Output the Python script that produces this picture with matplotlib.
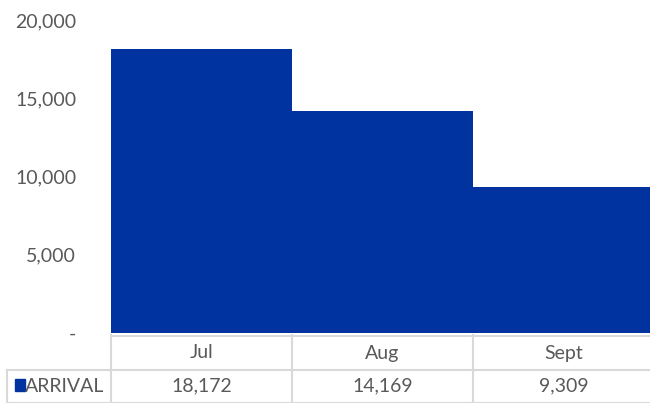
import matplotlib
matplotlib.use("Agg")
import matplotlib.pyplot as plt
from matplotlib.ticker import FuncFormatter
from matplotlib.lines import Line2D
from matplotlib.patches import Rectangle

categories = ["Jul", "Aug", "Sept"]
series_name = "ARRIVAL"
values = [18172, 14169, 9309]
yticks = [0, 5000, 10000, 15000, 20000]

BLUE = "#0033A0"
GRAY = "#595959"
GRID = "#D9D9D9"
FS = 14

plt.rcParams['font.family'] = ['Lato', 'DejaVu Sans']

W, H = 650, 403
fig = plt.figure(figsize=(6.5, 4.03), dpi=100)
ax = fig.add_axes([111 / W, 1 - 333 / H, (654 - 111) / W, (333 - 20) / H])
x = list(range(len(categories)))
ax.bar(x, values, width=1.0, color=BLUE, align='center')
ax.set_xlim(-0.5, len(categories) - 0.5)
ax.set_ylim(0, 20000)
ax.set_yticks(yticks)
ax.yaxis.set_major_formatter(FuncFormatter(lambda v, p: "-" if v == 0 else f"{int(v):,}"))
for s in ax.spines.values():
    s.set_visible(False)
ax.tick_params(axis='y', length=0, pad=25, labelsize=FS, labelcolor=GRAY)
ax.set_xticks([])

def fx(px):
    return px / W
def fy(py):
    return 1 - py / H

trans = ax.transData + fig.transFigure.inverted()
def colx(d):
    return trans.transform((d, 0))[0]

bounds = [colx(i - 0.5) for i in range(len(categories) + 1)]
lw = 1.5
for b in bounds[:-1]:
    fig.add_artist(Line2D([b, b], [fy(335), fy(403)], color=GRID, lw=lw))
fig.add_artist(Line2D([fx(7), fx(7)], [fy(370), fy(403)], color=GRID, lw=lw))
fig.add_artist(Line2D([bounds[0], 1], [fy(335.5), fy(335.5)], color=GRID, lw=lw))
fig.add_artist(Line2D([fx(7), 1], [fy(370), fy(370)], color=GRID, lw=lw))
fig.add_artist(Line2D([fx(7), 1], [fy(402.5), fy(402.5)], color=GRID, lw=lw))

for i, (c, v) in enumerate(zip(categories, values)):
    cx = colx(i)
    fig.text(cx, fy(353), c, ha='center', va='center', fontsize=FS, color=GRAY)
    fig.text(cx, fy(386), f"{v:,}", ha='center', va='center', fontsize=FS, color=GRAY)

fig.add_artist(Rectangle((fx(15), fy(391)), 10 / W, 12 / H, color=BLUE, transform=fig.transFigure))
fig.text(fx(25), fy(386), series_name, ha='left', va='center', fontsize=FS, color=GRAY)

fig.savefig("out.png", dpi=100)
